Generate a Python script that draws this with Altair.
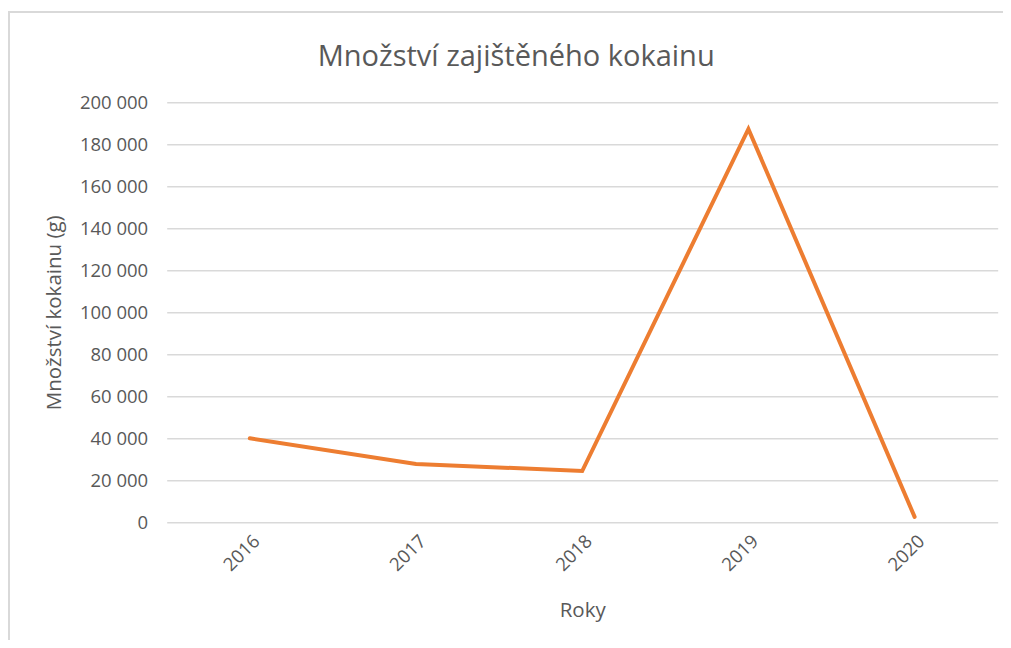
import altair as alt
import pandas as pd

years = ["2016", "2017", "2018", "2019", "2020"]
amounts = [40000, 27800, 24400, 187300, 2600]
y_ticks = [0, 20000, 40000, 60000, 80000, 100000, 120000, 140000, 160000, 180000, 200000]

df = pd.DataFrame({"rok": years, "mnozstvi": amounts})

FONT = "Open Sans"
GREY = "#595959"

border = alt.Chart(pd.DataFrame({"a": [0]})).mark_rect(
    fill=None, stroke="#D9D9D9", strokeWidth=2
).encode(
    x=alt.value(-157.7), x2=alt.value(1100),
    y=alt.value(-90.3), y2=alt.value(700)
)

line = alt.Chart(df).mark_line(
    color="#ED7D31", strokeWidth=4, strokeCap="round", strokeJoin="miter"
).encode(
    x=alt.X("rok:N", sort=years,
            scale=alt.Scale(type="point", padding=0.5),
            axis=alt.Axis(title="Roky", labelAngle=315, domain=False, ticks=False,
                          labelPadding=9, titlePadding=26)),
    y=alt.Y("mnozstvi:Q",
            scale=alt.Scale(domain=[0, 200000], nice=False, zero=True),
            axis=alt.Axis(title="Množství kokainu (g)", values=y_ticks,
                          domain=False, ticks=False, labelPadding=19,
                          titlePadding=15,
                          labelExpr="datum.value >= 1000 ? floor(datum.value / 1000) + ' 000' : '' + datum.value"))
)

chart = alt.layer(border, line).properties(
    width=831, height=420,
    autosize=alt.AutoSizeParams(type="none"),
    padding={"left": 158.7, "top": 94.3, "right": 5.3, "bottom": 117.7},
    title=alt.TitleParams("Množství zajištěného kokainu", frame="group", anchor="middle",
                          dx=-66, offset=-84, baseline="alphabetic", fontSize=29,
                          font=FONT, color=GREY, fontWeight="normal")
).configure_axis(
    labelFont=FONT, titleFont=FONT, labelFontSize=18.5, titleFontSize=20.5,
    labelColor=GREY, titleColor=GREY, titleFontWeight="normal",
    gridColor="#D9D9D9", gridWidth=1.5
).configure_view(stroke=None)

chart.save("out.html", embed_options={"renderer": "svg", "actions": False})
